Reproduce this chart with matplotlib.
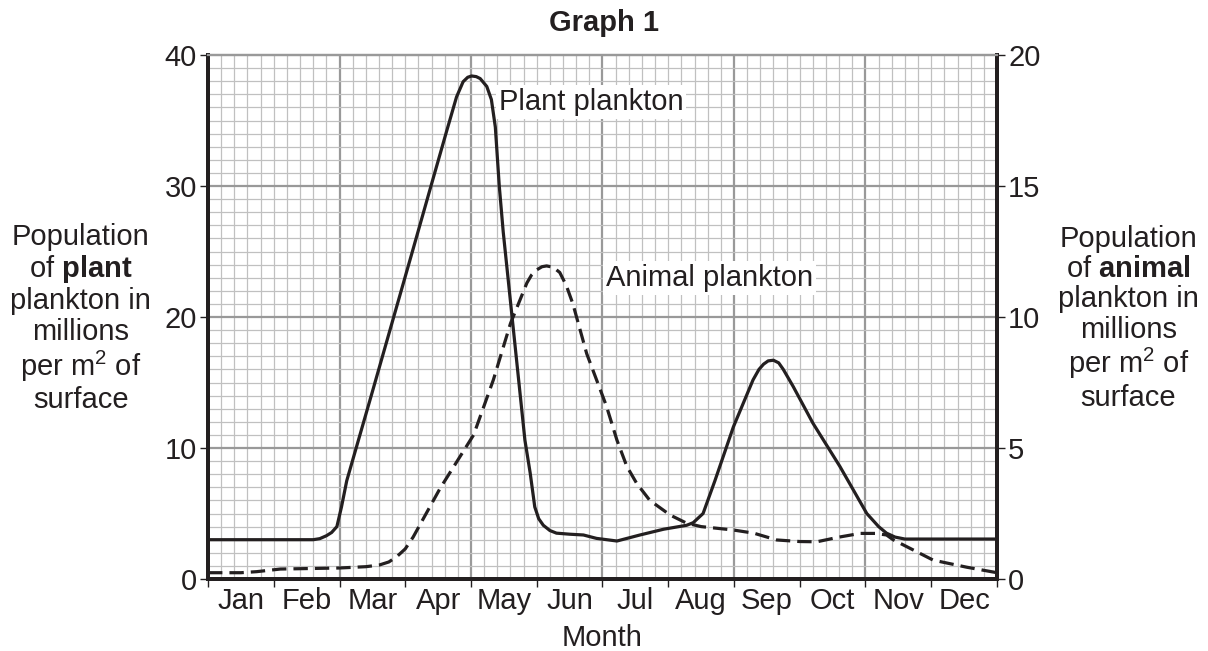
import numpy as np
import matplotlib.pyplot as plt

plt.rcParams['font.family'] = ['Liberation Sans', 'DejaVu Sans']
plt.rcParams['mathtext.fontset'] = 'custom'
plt.rcParams['mathtext.rm'] = 'Liberation Sans'
plt.rcParams['mathtext.bf'] = 'Liberation Sans:bold'

INK = '#231f20'
FS = 21

months = ['Jan', 'Feb', 'Mar', 'Apr', 'May', 'Jun',
          'Jul', 'Aug', 'Sep', 'Oct', 'Nov', 'Dec']

# plant plankton, left axis (millions per m2), x in months from 1 Jan
plant_x = [0, 1.0, 1.6, 1.7, 1.8, 1.88, 1.96, 2.03, 2.11, 2.5, 3.12, 3.38,
           3.63, 3.78, 3.88, 3.95, 4.01, 4.08, 4.14, 4.24, 4.31, 4.37, 4.43,
           4.49, 4.82, 4.9, 4.97, 5.03, 5.1, 5.2, 5.3, 5.5, 5.71, 5.91, 6.22,
           6.57, 6.93, 7.28, 7.38, 7.53, 7.71, 7.99, 8.29, 8.38, 8.45, 8.52,
           8.6, 8.68, 8.75, 8.9, 9.2, 9.61, 10.02, 10.2, 10.32, 10.45, 10.6,
           12]
plant_y = [3.0, 3.0, 3.0, 3.08, 3.3, 3.55, 4.0, 5.5, 7.5, 14.3, 25.2, 29.8,
           34.2, 36.8, 37.96, 38.3, 38.4, 38.35, 38.2, 37.6, 36.6, 34.5, 30.0,
           26.5, 10.6, 8.1, 5.5, 4.6, 4.1, 3.7, 3.5, 3.42, 3.36, 3.1, 2.9,
           3.36, 3.8, 4.1, 4.3, 5.0, 7.5, 11.6, 15.2, 16.0, 16.4, 16.65,
           16.7, 16.5, 16.0, 14.7, 11.9, 8.6, 5.0, 4.0, 3.5, 3.2, 3.05,
           3.05]

# animal plankton, right axis
animal_x = [0, 0.5, 0.74, 1.1, 2.0, 2.4, 2.6, 2.75, 2.87, 3.0, 3.12, 3.53,
            4.04, 4.34, 4.6, 4.85, 4.92, 5.0, 5.08, 5.15, 5.25, 5.35, 5.45,
            5.55, 5.76, 6.06, 6.22, 6.37, 6.52, 6.72, 7.03, 7.28, 7.5, 7.99,
            8.3, 8.65, 9.0, 9.26, 9.6, 9.92, 10.15, 10.32, 10.42, 11.03,
            11.54, 12]
animal_y = [0.24, 0.24, 0.28, 0.38, 0.42, 0.47, 0.53, 0.65, 0.85, 1.15, 1.6,
            3.46, 5.5, 7.6, 9.75, 11.3, 11.6, 11.8, 11.92, 11.95, 11.9, 11.7,
            11.2, 10.5, 8.6, 6.6, 5.3, 4.3, 3.65, 3.0, 2.44, 2.13, 2.0, 1.87,
            1.75, 1.49, 1.43, 1.42, 1.6, 1.74, 1.74, 1.68, 1.5, 0.72,
            0.45, 0.24]

fig = plt.figure(figsize=(12.08, 6.51), dpi=100)
ax = fig.add_axes([0.1722, 0.1106, 0.6531, 0.8049])
ax2 = ax.twinx()

ax.set_xlim(0, 12)
ax.set_ylim(0, 40)
ax2.set_ylim(0, 20)

# graph paper
for v in np.arange(0.2, 12, 0.2):
    major = abs(v / 2 - round(v / 2)) < 1e-6
    ax.axvline(v, color='#999999' if major else '#c0c0c0',
               lw=1.6 if major else 0.9, zorder=0)
for v in np.arange(1, 40, 1):
    major = v % 10 == 0
    ax.axhline(v, color='#999999' if major else '#c0c0c0',
               lw=1.6 if major else 0.9, zorder=0)

ax.plot(plant_x, plant_y, color=INK, lw=2.3, zorder=3,
        solid_joinstyle='round')
ax2.plot(animal_x, animal_y, color=INK, lw=2.3, dashes=(4.5, 2.2), zorder=3)

ax.text(4.42, 36.4, 'Plant plankton', fontsize=FS, color=INK, va='center',
        zorder=4, bbox=dict(facecolor='white', edgecolor='none', pad=2))
ax.text(6.05, 23.0, 'Animal plankton', fontsize=FS, color=INK, va='center',
        zorder=4, bbox=dict(facecolor='white', edgecolor='none', pad=2))

for a in (ax, ax2):
    for s in ('left', 'right', 'bottom'):
        a.spines[s].set_linewidth(2.8)
        a.spines[s].set_color(INK)
    a.spines['top'].set_color('#999999')
    a.spines['top'].set_linewidth(1.6)

ax.set_xticks(np.arange(0, 13, 1))
ax.set_xticklabels([])
ax.set_xticks(np.arange(0.5, 12, 1), minor=True)
ax.set_xticklabels(months, minor=True)
ax.tick_params(axis='x', which='major', length=6, width=1, color=INK)
ax.tick_params(axis='x', which='minor', length=0, pad=6, labelsize=FS,
               labelcolor=INK)
ax.set_yticks([0, 10, 20, 30, 40])
ax.tick_params(axis='y', length=6, width=1, color=INK, labelsize=FS,
               labelcolor=INK, pad=2)
ax2.set_yticks([0, 5, 10, 15, 20])
ax2.tick_params(axis='y', length=6, width=1, color=INK, labelsize=FS,
                labelcolor=INK, pad=2)

ax.set_xlabel('Month', fontsize=FS, color=INK, labelpad=6)

fig.text(0.5, 0.965, 'Graph 1', fontsize=FS, fontweight='bold', color=INK,
         ha='center', va='center')
fig.text(0.067, 0.511,
         'Population\nof $\\mathbf{plant}$\nplankton in\nmillions\n'
         'per m$^2$ of\nsurface',
         fontsize=FS, color=INK, ha='center', va='center', linespacing=1.1)
fig.text(0.934, 0.511,
         'Population\nof $\\mathbf{animal}$\nplankton in\nmillions\n'
         'per m$^2$ of\nsurface',
         fontsize=FS, color=INK, ha='center', va='center', linespacing=1.1)

fig.savefig('out.png', dpi=100)
